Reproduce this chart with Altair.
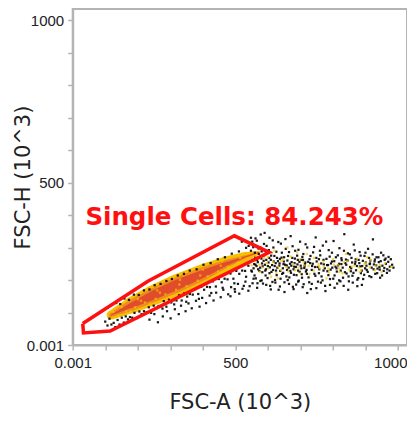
import pandas as pd
import altair as alt

# gate polygon (FSC-A, FSC-H in 10^3)
gate_a = [31, 33, 115, 604, 497, 231, 31]
gate_h = [66, 37, 43, 285, 336, 196, 66]

# dense core of the singlet band: ridge points and band widths (px) per density level
ridge_a = [118, 180, 250, 320, 400, 470, 530, 572]
ridge_h = [92, 122, 154, 185, 219, 249, 271, 285]
width_low = [9, 16, 20, 21, 19, 15, 10, 3]
width_mid = [4, 11, 14, 15, 13, 8, 3, 0]
width_high = [0, 5, 9, 10, 8, 4, 0, 0]

# sparse events (black)
black_events = [
    # upper edge of band
    (108, 115), (121, 124), (134, 129), (146, 126), (159, 143), (173, 139), (188, 155),
    (203, 154), (219, 168), (236, 171), (252, 184), (270, 188), (288, 197), (305, 203),
    (323, 214), (342, 219), (360, 229), (381, 233), (402, 247), (424, 252), (446, 264),
    (468, 270), (489, 281), (511, 288), (533, 299),
    # lower edge of band
    (100, 72), (107, 60), (113, 81), (119, 63), (126, 68), (131, 55), (138, 77), (144, 63),
    (151, 84), (157, 69), (163, 88), (170, 79), (176, 86), (183, 84), (190, 99), (197, 83),
    (205, 103), (212, 95), (219, 104), (227, 101), (234, 116), (241, 99), (249, 121),
    (256, 113), (264, 120), (272, 119), (280, 135), (288, 118), (296, 140), (303, 131),
    (311, 138), (319, 137), (327, 153), (335, 137), (343, 159), (352, 149), (360, 157),
    (369, 155), (377, 172), (386, 157), (395, 179), (404, 170), (413, 179), (422, 178),
    (431, 196), (440, 180), (449, 203), (458, 193), (467, 204), (476, 202), (485, 220),
    (494, 204), (503, 228), (512, 219), (521, 229), (530, 228), (540, 244), (549, 229),
    # below the band
    (236, 78), (251, 95), (262, 70), (277, 88), (290, 104), (301, 82), (314, 110),
    (326, 95), (333, 121), (347, 104), (356, 128), (366, 113), (379, 136), (390, 118),
    (398, 145), (410, 129), (421, 152), (433, 137), (441, 161), (455, 147), (463, 170),
    (478, 156), (487, 178), (499, 164), (508, 188), (522, 173), (531, 195), (544, 181),
    (556, 204), (568, 190), (276, 112), (312, 125), (349, 133), (388, 142), (426, 160),
    (461, 176), (497, 190), (533, 210),
    (485, 150), (498, 172), (512, 158), (526, 182), (540, 167), (553, 190), (567, 176),
    (581, 199), (595, 185), (609, 171), (623, 192), (637, 180), (651, 163), (665, 188),
    (679, 172), (693, 195), (707, 178), (721, 160), (735, 188), (749, 175), (763, 192),
    (777, 166), (791, 185), (805, 176), (819, 199), (833, 182), (847, 170), (861, 192),
    (875, 201), (889, 185),
    # above the gate tip
    (520, 318), (541, 305), (562, 328), (577, 300), (590, 345), (548, 330), (605, 330),
    # doublet tail
    (552, 318), (556, 236), (560, 284), (563, 205), (567, 262), (571, 297), (574, 228),
    (578, 340), (582, 251), (585, 189), (589, 276), (593, 214), (596, 305), (600, 243),
    (604, 268), (607, 182), (611, 225), (615, 322), (618, 257), (622, 200), (626, 287),
    (629, 238), (633, 170), (637, 265), (640, 312), (644, 219), (648, 249), (651, 193),
    (655, 296), (659, 231), (662, 274), (666, 208), (670, 335), (673, 255), (677, 179),
    (681, 241), (684, 290), (688, 215), (692, 262), (695, 198), (699, 318), (703, 236),
    (706, 271), (710, 187), (714, 249), (717, 226), (721, 300), (725, 208), (728, 264),
    (732, 172), (736, 243), (739, 285), (743, 219), (747, 331), (750, 257), (754, 195),
    (758, 233), (761, 276), (765, 211), (769, 306), (772, 248), (776, 182), (780, 265),
    (783, 227), (787, 292), (791, 203), (794, 251), (798, 238), (802, 320), (805, 214),
    (809, 270), (813, 189), (816, 245), (820, 298), (824, 229), (827, 261), (831, 207),
    (835, 341), (838, 252), (842, 220), (846, 282), (849, 196), (853, 240), (857, 268),
    (860, 213), (864, 309), (868, 249), (871, 230), (875, 181), (879, 262), (882, 286),
    (886, 221), (890, 243), (893, 203), (897, 274), (901, 254), (904, 231), (908, 296),
    (912, 212), (915, 260), (919, 238), (923, 325), (926, 248), (930, 219), (934, 270),
    (937, 235), (941, 255), (945, 207), (948, 284), (952, 244), (956, 228), (959, 262),
    (963, 250), (967, 233), (971, 271), (975, 241),
    (553, 262), (558, 249), (561, 271), (565, 243), (569, 255), (572, 280), (576, 238),
    (580, 266), (583, 224), (587, 259), (591, 247), (594, 233), (598, 282), (602, 254),
    (605, 221), (609, 262), (613, 246), (616, 231), (620, 274), (624, 252), (627, 215),
    (631, 258), (635, 244), (638, 228), (642, 269), (646, 236), (649, 257), (653, 247),
    (657, 211), (660, 260), (664, 238), (668, 250), (671, 222), (675, 268), (679, 233),
    (682, 252), (686, 240), (690, 275), (693, 229), (697, 256), (701, 244), (704, 218),
    (708, 262), (712, 237), (715, 254), (719, 231),
    (730, 252), (745, 240), (757, 264), (771, 229), (785, 246), (797, 257), (811, 236),
    (826, 249), (840, 263), (855, 227), (869, 256), (884, 242), (899, 236), (913, 249),
    (928, 257), (943, 240),
    (548, 290), (551, 226), (555, 301), (559, 214), (562, 247), (566, 321), (570, 233),
    (573, 268), (577, 197), (581, 288), (584, 242), (588, 311), (592, 229), (595, 262),
    (599, 206), (603, 292), (606, 239), (610, 275), (614, 194), (617, 300), (621, 243),
    (625, 229), (628, 268), (632, 317), (636, 251), (639, 204), (643, 284), (647, 222),
    (650, 270), (654, 326), (658, 245), (661, 200), (665, 286), (669, 228), (672, 244),
    (676, 304), (680, 216), (683, 266), (687, 186), (691, 248), (694, 293), (698, 225),
    (702, 262), (705, 207), (709, 280), (713, 243), (716, 310), (720, 219), (724, 256),
    (727, 193), (731, 274), (735, 231), (738, 250), (742, 302), (746, 213), (749, 268),
    (753, 240), (757, 221), (760, 290), (764, 251), (768, 199), (771, 262), (775, 236),
    (779, 318), (782, 246), (786, 215), (790, 272), (793, 232), (797, 284), (801, 204),
    (804, 258), (808, 241), (812, 226), (815, 276), (819, 250), (823, 196), (826, 267),
    (830, 238), (834, 290), (837, 224), (841, 247), (845, 260), (848, 211), (852, 279),
    (856, 236), (859, 254), (863, 222), (867, 291), (870, 264), (874, 243), (878, 206),
    (881, 252), (885, 275), (889, 229), (892, 259), (896, 216), (900, 284), (903, 244),
    (907, 225), (911, 268), (914, 251), (918, 209), (922, 279), (925, 233), (929, 263),
    (933, 245), (936, 221), (940, 270), (944, 232), (947, 258), (951, 214), (955, 276),
    (958, 237), (962, 266), (966, 222), (970, 256), (974, 229), (978, 264), (982, 247),
    (986, 238),
]

# medium density events (yellow)
yellow_events = [
    (140, 92), (165, 104), (192, 116), (222, 131), (255, 142), (285, 156), (318, 170),
    (350, 181), (384, 198), (415, 211), (447, 226), (478, 240), (508, 254), (538, 266),
    (200, 141), (260, 168), (330, 201), (400, 232), (460, 258), (520, 280),
    (125, 102), (150, 117), (178, 104), (210, 136), (238, 126), (268, 161), (298, 146),
    (328, 186), (358, 171), (392, 214), (425, 196), (455, 244), (485, 228), (515, 268),
    (545, 254), (560, 274), (575, 267),
    (560, 258), (574, 247), (588, 268), (601, 236), (617, 255), (632, 241), (647, 262),
    (663, 226), (678, 249), (694, 238), (709, 255), (725, 243), (741, 229), (756, 250),
    (772, 242), (788, 224), (803, 247), (819, 236), (834, 255), (850, 232), (866, 244),
    (882, 225), (897, 249), (913, 239), (929, 230), (945, 246), (979, 240), (600, 270),
    (640, 230), (700, 222), (760, 236), (820, 225), (880, 238), (620, 290), (690, 285),
    (575, 225), (610, 210),
    (565, 275), (583, 238), (597, 252), (612, 283), (626, 222), (641, 259), (655, 240),
    (670, 272), (684, 230), (699, 263), (713, 245), (728, 218), (742, 268), (757, 243),
    (771, 257), (786, 235), (800, 264), (815, 247), (829, 221), (844, 258), (858, 241),
    (873, 266), (887, 230), (902, 253), (916, 262), (931, 244), (960, 252), (550, 245),
    (585, 295), (630, 205), (660, 300), (720, 280), (780, 205), (840, 280), (905, 270),
    (950, 225),
]

ticks = list(range(0, 1001, 100))
x_dom = [0, 1027.7]
y_dom = [0, 1034]

band = pd.DataFrame({"a": ridge_a, "h": ridge_h, "w1": width_low,
                     "w2": width_mid, "w3": width_high, "o": range(len(ridge_a))})
blk = pd.DataFrame(black_events, columns=["a", "h"])
yel = pd.DataFrame(yellow_events, columns=["a", "h"])
gate = pd.DataFrame({"a": gate_a, "h": gate_h, "o": range(len(gate_a))})

lbl = ("datum.value == 0 ? '0.001' : "
       "(datum.value == 500 || datum.value == 1000) ? format(datum.value, 'd') : ''")
ax_common = dict(values=ticks, labelExpr=lbl, grid=False, domainColor="#b4b4b4",
                 domainWidth=2, tickColor="#b4b4b4", tickWidth=1.5, tickSize=5,
                 labelFont="Liberation Sans", labelFontSize=15, labelColor="#222",
                 labelFlush=False, labelOverlap=False, titleFont="DejaVu Sans",
                 titleFontSize=21, titleFontWeight="normal", titleColor="#222")

X = alt.X("a:Q", scale=alt.Scale(domain=x_dom, nice=False, zero=False),
          axis=alt.Axis(title="FSC-A (10^3)", labelPadding=5, titleY=57,
                        titleBaseline="middle",
                        labelAlign={"condition": {"test": "datum.value == 1000", "value": "right"},
                                    "value": "center"},
                        labelOffset={"condition": {"test": "datum.value == 1000", "value": 9},
                                     "value": 0},
                        **ax_common))
Y = alt.Y("h:Q", scale=alt.Scale(domain=y_dom, nice=False, zero=False),
          axis=alt.Axis(title="FSC-H (10^3)", labelPadding=4, titleX=-49, titleY=168,
                        titleBaseline="middle", **ax_common))

base = alt.Chart(band).encode(x=X, y=Y, order="o:Q")
core1 = base.mark_trail(color="#f6c000").encode(size=alt.Size("w1:Q", scale=None, legend=None))
core2 = base.mark_trail(color="#f08a24").encode(size=alt.Size("w2:Q", scale=None, legend=None))
core3 = base.mark_trail(color="#dd3c2c", opacity=0.8).encode(size=alt.Size("w3:Q", scale=None, legend=None))

dots_b = alt.Chart(blk).mark_square(size=5, color="black", opacity=0.9).encode(x=X, y=Y)
dots_y = alt.Chart(yel).mark_square(size=5, color="#f5c400").encode(x=X, y=Y)

gate_line = alt.Chart(gate).mark_line(color="#ff1010", strokeWidth=3.5, strokeJoin="miter").encode(
    x=X, y=Y, order="o:Q")

label = alt.Chart(pd.DataFrame({"a": [497], "h": [391], "t": ["Single Cells: 84.243%"]})).mark_text(
    color="#ff1010", font="DejaVu Sans", fontSize=24.5, fontWeight="bold").encode(x=X, y=Y, text="t:N")

chart = alt.layer(core1, core2, core3, dots_b, dots_y, gate_line, label).properties(
    width=334.3, height=336, autosize="none",
    padding={"left": 64.7, "top": 1, "right": 0, "bottom": 67},
).configure_view(stroke="#b4b4b4", strokeWidth=2)

chart.save("out.html", embed_options={"renderer": "svg", "actions": False})
